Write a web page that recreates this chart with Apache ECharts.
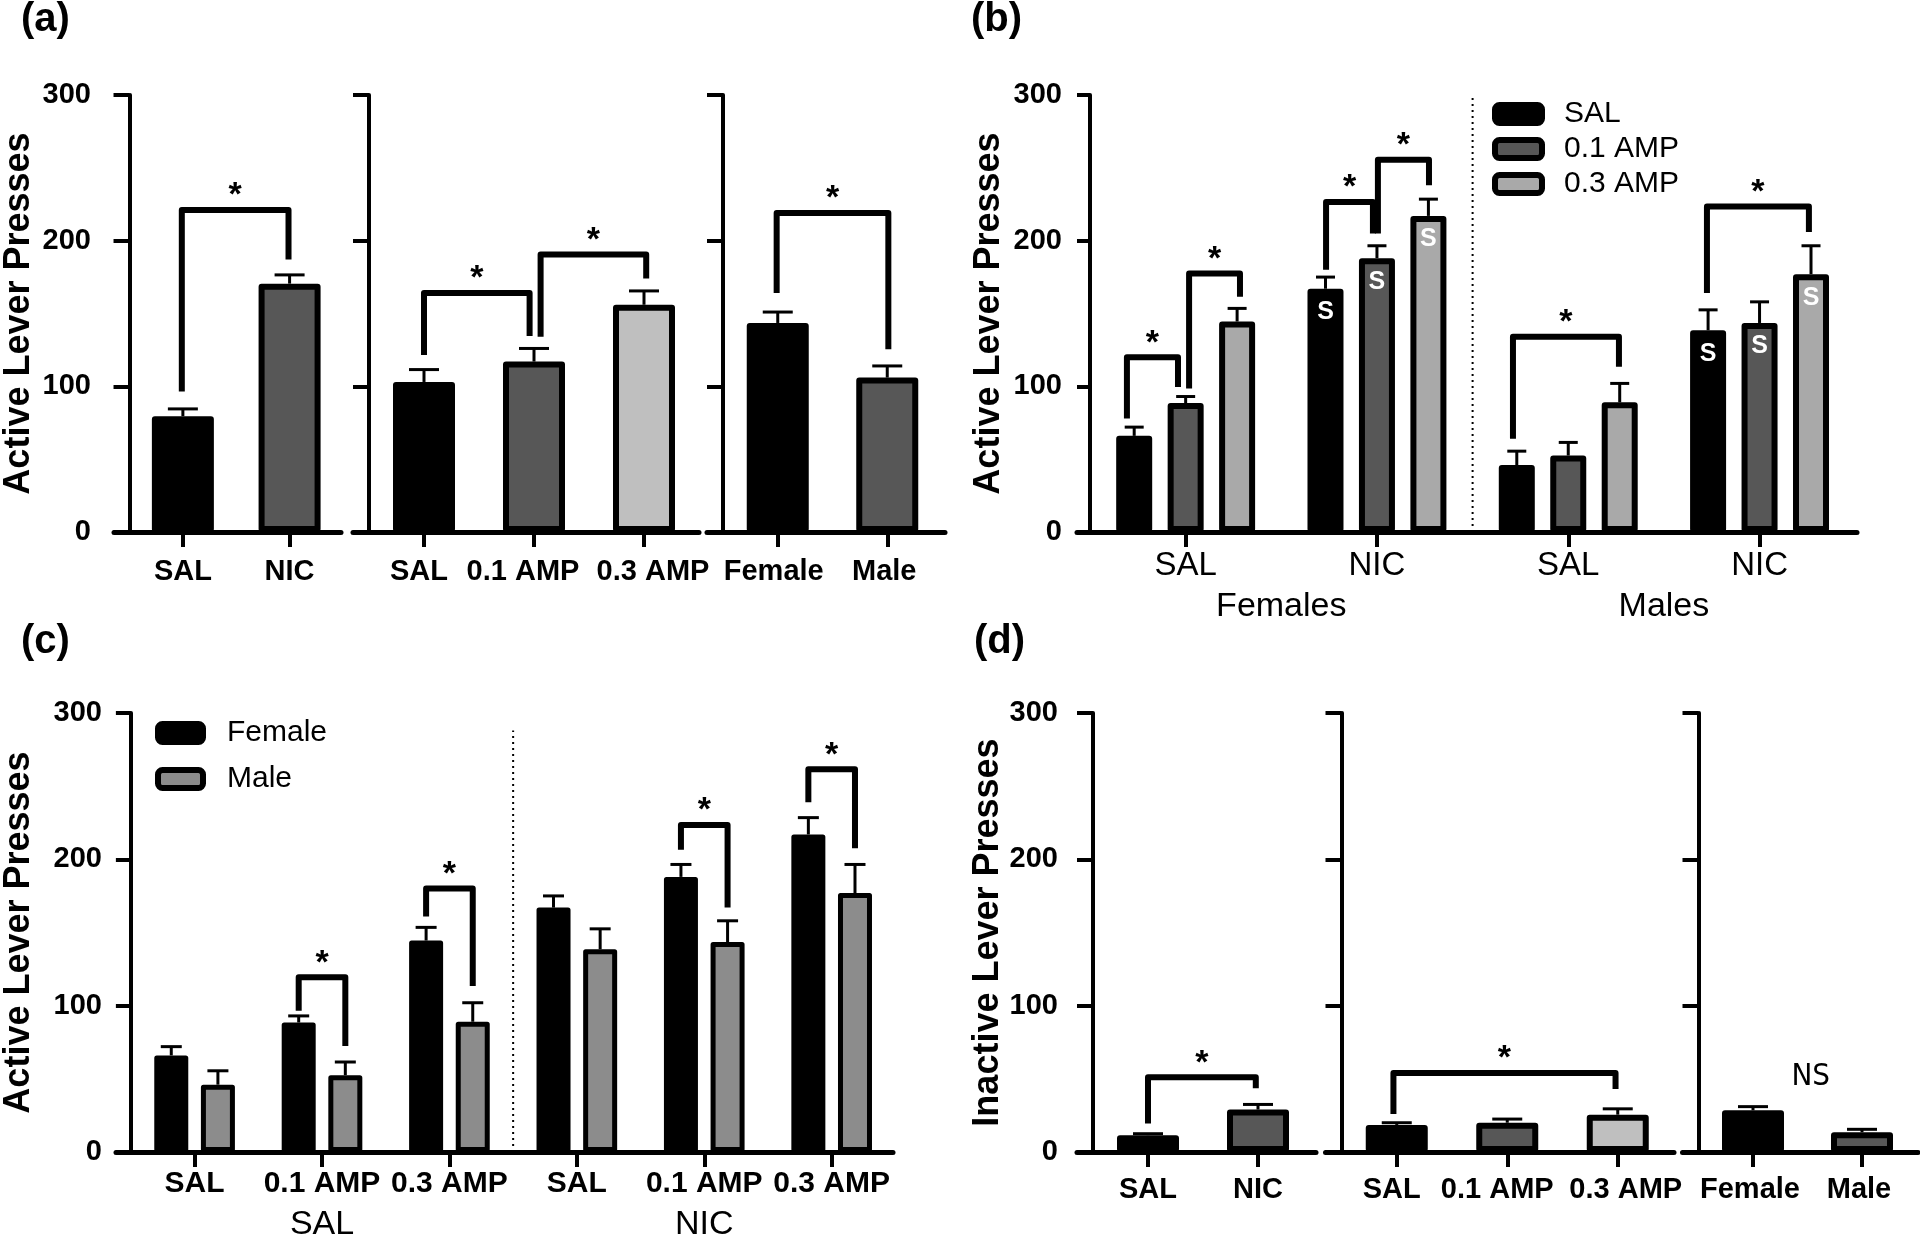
<!DOCTYPE html>
<html><head><meta charset="utf-8">
<script src="https://cdn.jsdelivr.net/npm/echarts@6/dist/echarts.min.js"></script>
<style>html,body{margin:0;padding:0;background:#fff}#c{width:1920px;height:1245px}</style>
</head><body><div id="c"></div>
<script>
// ================= DATA =================
// (a) Active lever presses – main effects
const aDrugCats = ['SAL', 'NIC'];
const aDrugVals = [79.5, 170.5];
const aDrugErr  = [5, 6];
const aAmpCats  = ['SAL', '0.1 AMP', '0.3 AMP'];
const aAmpVals  = [103, 117, 156];
const aAmpErr   = [8.5, 9, 9.5];
const aSexCats  = ['Female', 'Male'];
const aSexVals  = [143.5, 106];
const aSexErr   = [7.5, 8];
// significance brackets: [xLeft, xRight, yTop, yLeftEnd, yRightEnd] (category units / presses)
const aDrugBr = [[0.49, 1.49, 221, 96.5, 187]];
const aAmpBr  = [[0.5, 1.46, 164, 121.5, 134.5], [1.56, 2.52, 190.5, 134, 174]];
const aSexBr  = [[0.49, 1.51, 219, 164, 125.5]];

// (b) Active lever presses by sex x drug x dose
const bGroups = ['SAL', 'NIC', 'SAL', 'NIC'];
const bSexes  = ['Females', 'Males'];
const bDoses  = ['SAL', '0.1 AMP', '0.3 AMP'];
const bSAL      = [66, 167, 46, 138.5];
const bAMP01    = [88.5, 188, 52.5, 143.5];
const bAMP03    = [144.5, 217, 89, 177];
const bSALErr   = [6, 8, 9.5, 14];
const bAMP01Err = [4.5, 8.5, 9, 14.5];
const bAMP03Err = [9, 11.5, 13, 19.5];
const bSMark  = ['', 'S', '', 'S'];
const bBr = [[0.193, 0.46, 120, 78, 99.5], [0.518, 0.784, 177.5, 98.5, 161.5],
             [1.234, 1.479, 226.5, 180, 205], [1.505, 1.772, 255.5, 205, 238],
             [2.211, 2.765, 134, 64, 113.5], [3.225, 3.758, 223.5, 164, 206]];

// (c) Active lever presses by drug x dose x sex
const cCats   = ['SAL', '0.1 AMP', '0.3 AMP', 'SAL', '0.1 AMP', '0.3 AMP'];
const cGroups = ['SAL', 'NIC'];
const cSexes  = ['Female', 'Male'];
const cFemale = [66, 88.5, 144.5, 167, 188, 217];
const cMale   = [46, 52.5, 89, 138.5, 143.5, 177];
const cFemaleErr = [6, 4.5, 9, 8, 8.5, 11.5];
const cMaleErr   = [9.5, 9, 13, 14, 14.5, 19.5];
const cBr = [[1.317, 1.683, 119.5, 96.5, 72.5], [2.317, 2.683, 180, 161, 113.5],
             [4.317, 4.683, 223.5, 206.5, 167], [5.317, 5.683, 261.5, 239, 207.5]];

// (d) Inactive lever presses
const dDrugVals = [11.5, 29];
const dDrugErr  = [1, 3.5];
const dAmpVals  = [18.5, 20, 25.5];
const dAmpErr   = [1.5, 2.5, 4];
const dSexVals  = [28.5, 13.5];
const dSexErr   = [2.5, 2];
const dDrugBr = [[0.5, 1.48, 51, 19.5, 43.5]];
const dAmpBr  = [[0.47, 2.48, 54, 26, 43]];
const dSexNote = [[1.03, 51, 'NS']];

// ================= BUILD =================
const FONT = "'Liberation Sans', Arial, Helvetica, sans-serif";
const NARROW = "'Liberation Sans Narrow', 'Arial Narrow', 'DejaVu Sans Condensed', sans-serif";
const BLACK = '#000', DARK = '#575757', LIGHT = '#bfbfbf', MID = '#a9a9a9', MALEG = '#8c8c8c';

const grids = [], xAxes = [], yAxes = [], series = [], legends = [];

function errSeries(idx, xIdx, data, capHalf) {
  return {
    type: 'custom', xAxisIndex: xIdx, yAxisIndex: idx, silent: true, clip: false, z: 1,
    encode: { x: 0, y: 1 },
    data,
    renderItem: (params, api) => {
      const x = api.value(0), y = api.value(1), e = api.value(2);
      const p0 = api.coord([x, y]), p1 = api.coord([x, y + e]);
      return { type: 'group', children: [
        { type: 'line', shape: { x1: p0[0], y1: p0[1], x2: p1[0], y2: p1[1] }, style: { stroke: '#000', lineWidth: 3 } },
        { type: 'line', shape: { x1: p1[0] - capHalf, y1: p1[1], x2: p1[0] + capHalf, y2: p1[1] }, style: { stroke: '#000', lineWidth: 3 } }
      ]};
    }
  };
}

function bracketSeries(idx, xIdx, data) {
  return {
    type: 'custom', xAxisIndex: xIdx, yAxisIndex: idx, silent: true, clip: false, z: 5,
    encode: { x: [0, 1], y: [2, 3, 4] },
    data,
    renderItem: (params, api) => {
      const x1 = api.value(0), x2 = api.value(1), yt = api.value(2), yl = api.value(3), yr = api.value(4);
      const a = api.coord([x1, yl]), b = api.coord([x1, yt]), c = api.coord([x2, yt]), d = api.coord([x2, yr]);
      return { type: 'group', children: [
        { type: 'polyline', shape: { points: [a, b, c, d] }, style: { stroke: '#000', fill: 'none', lineWidth: 6, lineJoin: 'round' } },
        { type: 'text', x: (b[0] + c[0]) / 2, y: b[1] - 14,
          style: { text: '*', fontSize: 34, fontWeight: 'bold', fontFamily: FONT, fill: '#000', align: 'center', verticalAlign: 'middle' } }
      ]};
    }
  };
}

function noteSeries(idx, xIdx, data) {
  return {
    type: 'custom', xAxisIndex: xIdx, yAxisIndex: idx, silent: true, clip: false,
    encode: { x: 0, y: 1 },
    data,
    renderItem: (params, api) => {
      const p = api.coord([api.value(0), api.value(1)]);
      return { type: 'text', x: p[0], y: p[1],
        style: { text: data[params.dataIndex][2], fontSize: 31, fontFamily: NARROW, fill: '#000', align: 'center', verticalAlign: 'middle' } };
    }
  };
}

function addGrid(p) {
  const idx = grids.length;
  const ext = p.tick;
  const left = p.axisX - ext;
  grids.push({ left: left, top: p.top, width: p.endX - left, height: p.height });
  const min = -ext / p.w, max = (p.endX - p.axisX) / p.w;
  const ticks = p.cats.map((c, i) => i + 0.5);
  const shift = p.shift || p.cats.map(() => 0);
  const lblFont = { color: '#000', fontFamily: FONT, fontSize: p.xFont, fontWeight: p.xWeight };
  const rich = {};
  shift.forEach((s, i) => {
    rich['s' + i] = Object.assign({ padding: s < 0 ? [0, -2 * s, 0, 0] : [0, 0, 0, 2 * s] }, lblFont);
  });
  const xIdx = xAxes.length;
  xAxes.push({
    gridIndex: idx, type: 'value', min: min, max: max, splitLine: { show: false },
    axisLine: { show: true, onZero: true, lineStyle: { color: '#000', width: 5 } },
    axisTick: { show: true, length: 15, lineStyle: { color: '#000', width: 4 }, customValues: ticks },
    axisLabel: Object.assign({ show: true, customValues: ticks, margin: p.xMargin, rich: rich,
      formatter: v => { const i = Math.round(v - 0.5); return '{s' + i + '|' + p.cats[i] + '}'; } }, lblFont)
  });
  if (p.groups) {
    const gt = p.groupPos;
    xAxes.push({
      gridIndex: idx, type: 'value', min: min, max: max, position: 'bottom', splitLine: { show: false },
      axisLine: { show: false, onZero: false }, axisTick: { show: false },
      axisLabel: { show: true, customValues: gt,
        formatter: v => { let best = 0; gt.forEach((g, i) => { if (Math.abs(g - v) < Math.abs(gt[best] - v)) best = i; }); return p.groups[best]; },
        color: '#000', fontFamily: FONT, fontSize: 34, margin: p.groupMargin }
    });
  }
  yAxes.push({
    gridIndex: idx, type: 'value', min: 0, max: 300, interval: 100, splitLine: { show: false },
    axisLine: { show: true, onZero: true, onZeroAxisIndex: xIdx, lineStyle: { color: '#000', width: 4 } },
    axisTick: { show: true, length: p.tick, lineStyle: { color: '#000', width: 4 } },
    axisLabel: { show: !!p.yLabels, color: '#000', fontFamily: FONT, fontSize: 29, fontWeight: 'bold', margin: p.yMargin },
    name: p.title || '', nameLocation: 'middle', nameGap: p.nameGap || 0,
    nameTextStyle: { fontFamily: FONT, fontSize: 36, fontWeight: 'bold', color: '#000' }
  });
  return { idx: idx, xIdx: xIdx };
}

function simplePanel(p) {
  const g = addGrid(p);
  series.push({
    type: 'bar', name: p.name, xAxisIndex: g.xIdx, yAxisIndex: g.idx, barWidth: 62, silent: true, z: 2,
    itemStyle: { borderColor: '#000', borderWidth: 6, borderJoin: 'round' },
    data: p.vals.map((v, i) => ({ value: [i + 0.5, v], itemStyle: { color: p.colors[i] } }))
  });
  series.push(errSeries(g.idx, g.xIdx, p.vals.map((v, i) => [i + 0.5, v, p.errs[i]]), 15));
  if (p.brackets) series.push(bracketSeries(g.idx, g.xIdx, p.brackets));
  if (p.notes) series.push(noteSeries(g.idx, g.xIdx, p.notes));
}

const topA = 95, hA = 437, topC = 713, hC = 439;

// ---- (a)
simplePanel({ name: 'a1', axisX: 123, w: 110, endX: 341, top: topA, height: hA, tick: 16, cats: aDrugCats, vals: aDrugVals, errs: aDrugErr,
  colors: [BLACK, DARK], title: 'Active Lever Presses', nameGap: 77, yLabels: true, yMargin: 23, xFont: 29, xWeight: 'bold', xMargin: 25, brackets: aDrugBr });
simplePanel({ name: 'a2', axisX: 369, w: 110, endX: 699, top: topA, height: hA, tick: 16, cats: aAmpCats, vals: aAmpVals, errs: aAmpErr,
  colors: [BLACK, DARK, LIGHT], xFont: 29, xWeight: 'bold', xMargin: 25, shift: [-5, -11, 9], brackets: aAmpBr });
simplePanel({ name: 'a3', axisX: 723, w: 109.5, endX: 945, top: topA, height: hA, tick: 16, cats: aSexCats, vals: aSexVals, errs: aSexErr,
  colors: [BLACK, DARK], xFont: 29, xWeight: 'bold', xMargin: 25, shift: [-4, -3], brackets: aSexBr });

// ---- (d)
simplePanel({ name: 'd1', axisX: 1093, w: 110, endX: 1316, top: topC, height: hC, tick: 16, cats: aDrugCats, vals: dDrugVals, errs: dDrugErr,
  colors: [BLACK, DARK], title: 'Inactive Lever Presses', nameGap: 57, yLabels: true, yMargin: 19, xFont: 29, xWeight: 'bold', xMargin: 23, brackets: dDrugBr });
simplePanel({ name: 'd2', axisX: 1341.5, w: 110.5, endX: 1674, top: topC, height: hC, tick: 16, cats: aAmpCats, vals: dAmpVals, errs: dAmpErr,
  colors: [BLACK, DARK, LIGHT], xFont: 29, xWeight: 'bold', xMargin: 23, shift: [-5, -10, 8], brackets: dAmpBr });
simplePanel({ name: 'd3', axisX: 1698.5, w: 109, endX: 1918, top: topC, height: hC, tick: 16, cats: aSexCats, vals: dSexVals, errs: dSexErr,
  colors: [BLACK, DARK], xFont: 29, xWeight: 'bold', xMargin: 23, shift: [-3, -3], notes: dSexNote });

// ---- (b)
(function () {
  const g = addGrid({ axisX: 1090, w: 191.3, endX: 1857, top: topA, height: hA, tick: 13, cats: bGroups,
    title: 'Active Lever Presses', nameGap: 70, yLabels: true, yMargin: 15, xFont: 33, xWeight: 'normal', xMargin: 17,
    groups: bSexes, groupPos: [1, 3], groupMargin: 58 });
  const vals = [bSAL, bAMP01, bAMP03], errs = [bSALErr, bAMP01Err, bAMP03Err], cols = [BLACK, DARK, MID];
  const off = 0.269;
  bDoses.forEach((name, s) => {
    const dx = (s - 1) * off;
    series.push({
      type: 'bar', name: name, xAxisIndex: g.xIdx, yAxisIndex: g.idx, barWidth: 36, barGap: '-100%', silent: true, z: 2,
      itemStyle: { color: cols[s], borderColor: '#000', borderWidth: 6, borderJoin: 'round' },
      label: { show: true, position: 'insideTop', distance: 11, color: '#fff', fontFamily: FONT, fontWeight: 'bold', fontSize: 25,
        formatter: prm => bSMark[prm.dataIndex] },
      data: vals[s].map((v, k) => [k + 0.5 + dx, v])
    });
    series.push(errSeries(g.idx, g.xIdx, vals[s].map((v, k) => [k + 0.5 + dx, v, errs[s][k]]), 9.5));
  });
  series.push(bracketSeries(g.idx, g.xIdx, bBr));
  series.push({ type: 'line', xAxisIndex: g.xIdx, yAxisIndex: g.idx, silent: true, symbol: 'none',
    lineStyle: { color: '#000', width: 2, type: [2, 4] }, data: [[2, 0], [2, 300]] });
  legends.push({ orient: 'vertical', left: 1492, top: 99, padding: 0, itemWidth: 47, itemHeight: 18, itemGap: 5, icon: 'roundRect',
    selectedMode: false, data: bDoses,
    itemStyle: { borderColor: '#000', borderWidth: 6 },
    textStyle: { fontFamily: FONT, fontSize: 30, color: '#000', lineHeight: 30, padding: [0, 0, 0, 17] } });
})();

// ---- (c)
(function () {
  const g = addGrid({ axisX: 125, w: 128.4, endX: 893, top: topC, height: hC, tick: 15, cats: cCats,
    title: 'Active Lever Presses', nameGap: 79, yLabels: true, yMargin: 14, xFont: 30, xWeight: 'bold', xMargin: 17,
    groups: cGroups, groupPos: [1.5, 4.5], groupMargin: 56 });
  const vals = [cFemale, cMale], errs = [cFemaleErr, cMaleErr], cols = [BLACK, MALEG];
  const off = 0.183;
  cSexes.forEach((name, s) => {
    const dx = (s === 0 ? -1 : 1) * off;
    series.push({
      type: 'bar', name: name, xAxisIndex: g.xIdx, yAxisIndex: g.idx, barWidth: 34, barGap: '-100%', silent: true, z: 2,
      itemStyle: { color: cols[s], borderColor: '#000', borderWidth: 5, borderJoin: 'round' },
      data: vals[s].map((v, k) => [k + 0.5 + dx, v])
    });
    series.push(errSeries(g.idx, g.xIdx, vals[s].map((v, k) => [k + 0.5 + dx, v, errs[s][k]]), 10.5));
  });
  series.push(bracketSeries(g.idx, g.xIdx, cBr));
  series.push({ type: 'line', xAxisIndex: g.xIdx, yAxisIndex: g.idx, silent: true, symbol: 'none',
    lineStyle: { color: '#000', width: 2, type: [2, 4] }, data: [[3, 0], [3, 288]] });
  legends.push({ orient: 'vertical', left: 155, top: 718, padding: 0, itemWidth: 45, itemHeight: 18, itemGap: 16, icon: 'roundRect',
    selectedMode: false, data: cSexes,
    itemStyle: { borderColor: '#000', borderWidth: 6 },
    textStyle: { fontFamily: FONT, fontSize: 30, color: '#000', lineHeight: 30, padding: [0, 0, 0, 19] } });
})();

const letters = [['(a)', 21, 0], ['(b)', 971, 0], ['(c)', 21, 622], ['(d)', 974, 622]];

const chart = echarts.init(document.getElementById('c'), null, { renderer: 'canvas' });
chart.setOption({
  backgroundColor: '#fff',
  animation: false,
  grid: grids, xAxis: xAxes, yAxis: yAxes, series: series, legend: legends,
  graphic: letters.map(l => ({ type: 'text', left: l[1], top: l[2],
    style: { text: l[0], fontSize: 40, fontWeight: 'bold', fontFamily: FONT, fill: '#000' } }))
});
</script></body></html>
